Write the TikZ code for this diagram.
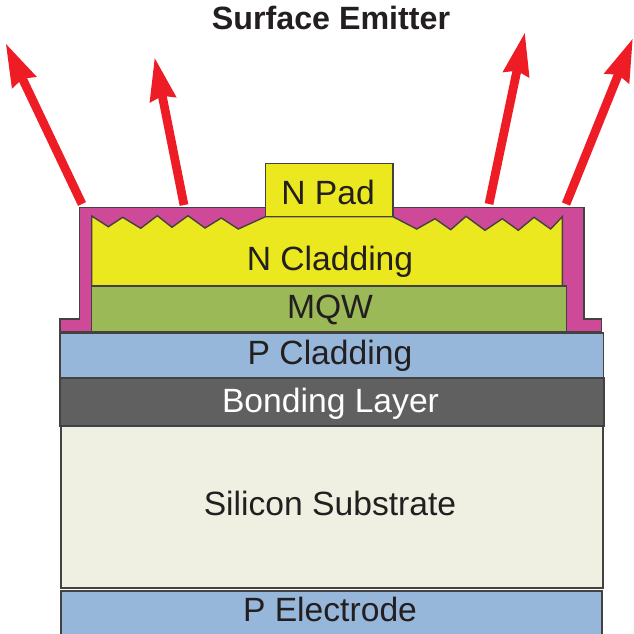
\documentclass[tikz,border=0pt]{standalone}
\usepackage{fontspec}
\setmainfont{Liberation Sans}
\usetikzlibrary{arrows.meta}

\definecolor{padyellow}{HTML}{ECE81F}
\definecolor{mqwgreen}{HTML}{9BB957}
\definecolor{coatmagenta}{HTML}{CE4A98}
\definecolor{layerblue}{HTML}{96B6DA}
\definecolor{bondgray}{HTML}{606060}
\definecolor{siliconcream}{HTML}{F0F0E2}
\definecolor{rayred}{HTML}{EE1C25}
\definecolor{inkblack}{HTML}{231F20}

\tikzset{
  layer/.style = {draw = inkblack!85, line width = 0.028cm, line join = miter},
  label/.style = {anchor = base, text = inkblack, font = \fontsize{19.15}{22}\selectfont},
  ray/.style = {rayred, line width = 0.175cm,
    -{Stealth[length = 0.85cm, width = 0.5cm, inset = 0.06cm]}}
}

\begin{document}
\begin{tikzpicture}[x = 0.02cm, y = -0.02cm]
  \clip (0, 0) rectangle (634, 633);

  \def\coating{(60, 332) -- (60, 319) -- (79.3, 319) -- (79.3, 207.7) -- (584, 207.7)
    -- (584, 319) -- (601.7, 319) -- (601.7, 332) -- cycle}
  \def\ncladding{(91.7, 216) -- (108.3, 226.7) -- (122.7, 217.3) -- (140.7, 228.3) -- (157.3, 215.7)
    -- (172, 227.3) -- (188, 215.7) -- (205, 228) -- (221.3, 218) -- (238.3, 229) -- (265.3, 216.7)
    -- (393, 216.7) -- (416.7, 229) -- (435, 218.7) -- (450.7, 229.7) -- (466, 216.3) -- (485, 230.3)
    -- (502.3, 218.7) -- (518.3, 230.3) -- (534, 217.3) -- (550.7, 229) -- (562.3, 216.7)
    -- (562.3, 286) -- (91.7, 286) -- cycle}

  % light going out of the top
  \coordinate (rayonefoot) at (82, 204);
  \coordinate (rayonetip) at (5.5, 43);
  \coordinate (raytwofoot) at (184, 205);
  \coordinate (raytwotip) at (154.5, 57);
  \coordinate (raythreefoot) at (489, 204);
  \coordinate (raythreetip) at (525, 32);
  \coordinate (rayfourfoot) at (566, 204);
  \coordinate (rayfourtip) at (633, 38);

  \draw[ray] (rayonefoot) -- (rayonetip);
  \draw[ray] (raytwofoot) -- (raytwotip);
  \draw[ray] (raythreefoot) -- (raythreetip);
  \draw[ray] (rayfourfoot) -- (rayfourtip);

  \draw[layer, fill = coatmagenta] \coating;
  \draw[layer, fill = padyellow] \ncladding;
  \draw[layer, fill = padyellow] (265.3, 163.7) rectangle (393, 216.7);
  \draw[layer, fill = mqwgreen] (91.7, 286) rectangle (566.7, 332);
  \draw[layer, fill = layerblue] (60, 333) rectangle (603.3, 377.5);
  \draw[layer, fill = bondgray] (60, 378) rectangle (604, 426);
  \draw[layer, fill = siliconcream] (61, 426) rectangle (603, 588);
  \draw[layer, fill = layerblue] (61, 591) rectangle (602, 640);

  \node[label, font = \fontsize{18.35}{22}\selectfont\bfseries] (title) at (331, 29.8) {Surface Emitter};
  \node[label] (npad) at (328, 204) {N Pad};
  \node[label] (nclad) at (330, 270) {N Cladding};
  \node[label] (mqw) at (330, 318) {MQW};
  \node[label] (pclad) at (330, 364) {P Cladding};
  \node[label, text = white] (bond) at (330.5, 412) {Bonding Layer};
  \node[label] (silicon) at (330, 515) {Silicon Substrate};
  \node[label] (pelec) at (330, 621) {P Electrode};
\end{tikzpicture}
\end{document}
